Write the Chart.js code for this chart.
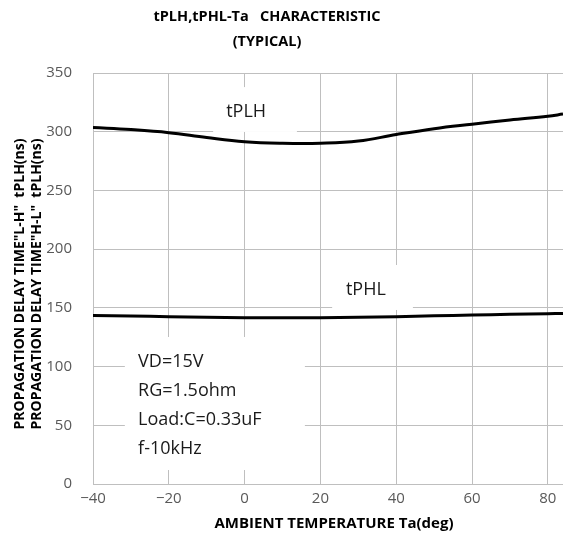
<!DOCTYPE html>
<html>
<head>
<meta charset="utf-8">
<script src="https://cdn.jsdelivr.net/npm/chart.js@4.4.1/dist/chart.umd.min.js"></script>
<style>
html,body{margin:0;padding:0;background:#fff;}
#wrap{width:563px;height:537px;position:relative;}
</style>
</head>
<body>
<div id="wrap"><canvas id="c" width="563" height="537"></canvas></div>
<script>
// ---- data ----
const temps = [-40, -30, -20, -10, 0, 10, 20, 30, 40, 50, 60, 70, 80, 84];
const tPLH  = [303.5, 301.8, 299.2, 295, 291.5, 290.2, 290.2, 292, 297.6, 302.6, 306.4, 310, 313.2, 315];
const tPHL  = [143.5, 143, 142.5, 142, 141.6, 141.5, 141.6, 142, 142.5, 143.2, 143.9, 144.5, 145, 145.3];
const xTicks = [-40, -20, 0, 20, 40, 60, 80];
const yTicks = [0, 50, 100, 150, 200, 250, 300, 350];
const titleLines = ['tPLH,tPHL-Ta   CHARACTERISTIC', '(TYPICAL)'];
const xTitle = 'AMBIENT TEMPERATURE Ta(deg)';
const yTitleLines = ['PROPAGATION DELAY TIME"L-H"  tPLH(ns)', 'PROPAGATION DELAY TIME"H-L"  tPLH(ns)'];
const seriesLabels = ['tPLH', 'tPHL'];
const conditions = ['VD=15V', 'RG=1.5ohm', 'Load:C=0.33uF', 'f-10kHz'];

const FONT = '"Open Sans", "Noto Sans", sans-serif';
const GRID = '#bfbfbf';

const toPts = (xs, ys) => xs.map((x, i) => ({x: x, y: ys[i]}));

const annot = {
  id: 'annot',
  beforeDatasetsDraw(chart) {
    const ctx = chart.ctx, xs = chart.scales.x, ys = chart.scales.y;
    const box = (x0, x1, y0, y1) => {
      const a = xs.getPixelForValue(x0), b = xs.getPixelForValue(x1);
      const c = ys.getPixelForValue(y1), d = ys.getPixelForValue(y0);
      ctx.fillStyle = '#fff';
      ctx.fillRect(a, c, b - a, d - c);
    };
    ctx.save();
    box(-8.3, 13.8, 299.8, 338);
    box(23.1, 44.4, 148.2, 186.5);
    box(-31.6, 15.9, 11.9, 125.2);
    ctx.fillStyle = '#1a1a1a';
    ctx.font = '18px ' + FONT;
    ctx.textBaseline = 'middle';
    ctx.textAlign = 'center';
    ctx.fillText(seriesLabels[0], xs.getPixelForValue(0.4), ys.getPixelForValue(316.8));
    ctx.fillText(seriesLabels[1], xs.getPixelForValue(32), ys.getPixelForValue(165.2));
    ctx.textAlign = 'left';
    const cy = [103.9, 79.2, 54.5, 29.8];
    conditions.forEach((t, i) => ctx.fillText(t, xs.getPixelForValue(-28.1), ys.getPixelForValue(cy[i])));
    ctx.restore();
  },
  afterDraw(chart) {
    const ctx = chart.ctx;
    ctx.save();
    ctx.fillStyle = '#000';
    ctx.textAlign = 'center';
    ctx.textBaseline = 'middle';
    ctx.font = 'bold 14.5px ' + FONT;
    ctx.fillText(titleLines[0], 267, 17);
    ctx.fillText(titleLines[1], 267, 42);
    ctx.font = 'bold 15px ' + FONT;
    ctx.fillText(xTitle, 334, 524);
    ctx.font = 'bold 14px ' + FONT;
    ctx.translate(0, 284);
    ctx.rotate(-Math.PI / 2);
    ctx.fillText(yTitleLines[0], 0, 20);
    ctx.fillText(yTitleLines[1], 0, 37);
    ctx.restore();
  }
};

new Chart(document.getElementById('c'), {
  type: 'scatter',
  data: {
    datasets: [
      {label: seriesLabels[0], data: toPts(temps, tPLH), showLine: true, borderColor: '#000', borderWidth: 3, pointRadius: 0, tension: 0.4, fill: false},
      {label: seriesLabels[1], data: toPts(temps, tPHL), showLine: true, borderColor: '#000', borderWidth: 3, pointRadius: 0, tension: 0.4, fill: false}
    ]
  },
  options: {
    responsive: false,
    animation: false,
    devicePixelRatio: 1,
    layout: {padding: {top: 73, right: 0, left: 0, bottom: 0}},
    plugins: {legend: {display: false}, tooltip: {enabled: false}, title: {display: false}},
    scales: {
      x: {
        type: 'linear', min: -40, max: 84,
        afterBuildTicks: s => { s.ticks = xTicks.map(v => ({value: v})); },
        afterFit: s => { s.height = 53; },
        grid: {color: GRID, lineWidth: 1, drawTicks: false},
        border: {color: GRID, width: 1},
        ticks: {color: '#595959', font: {family: FONT, size: 15}, padding: 6, maxRotation: 0,
                callback: v => String(v).replace('-', '\u2212')}
      },
      y: {
        type: 'linear', min: 0, max: 350,
        afterBuildTicks: s => { s.ticks = yTicks.map(v => ({value: v})); },
        afterFit: s => { s.width = 93; },
        grid: {color: GRID, lineWidth: 1, drawTicks: false},
        border: {color: GRID, width: 1},
        ticks: {color: '#595959', font: {family: FONT, size: 15}, padding: 21}
      }
    }
  },
  plugins: [annot]
});
</script>
</body>
</html>
